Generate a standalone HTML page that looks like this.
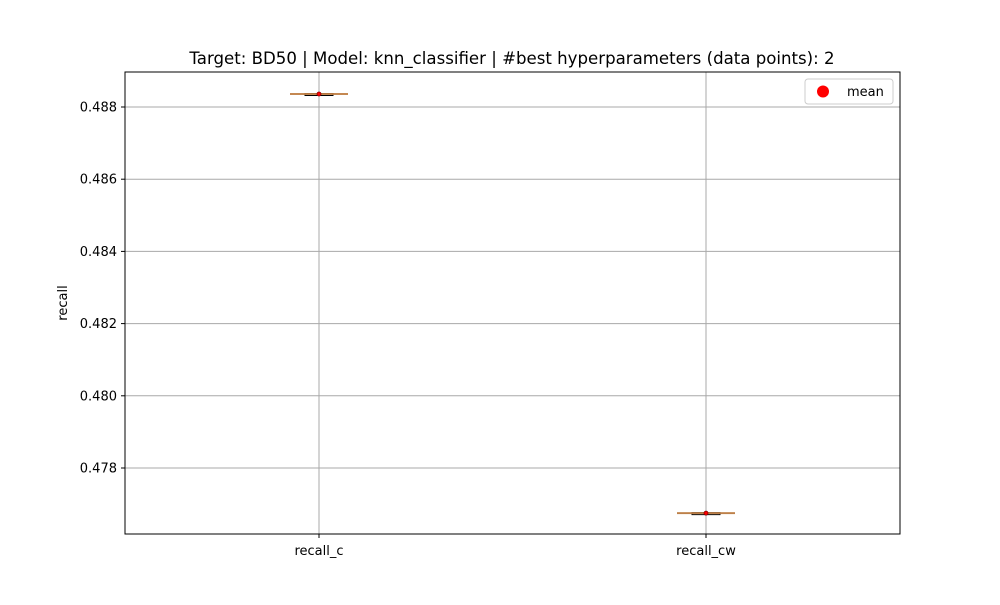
<!DOCTYPE html>
<html><head><meta charset="utf-8"><style>
body{margin:0;background:#fff;font-family:"Liberation Sans","DejaVu Sans",sans-serif}
</style></head><body>
<svg width="1000" height="600" id="svg" font-family="DejaVu Sans, Liberation Sans, sans-serif">
<text x="512" y="64" font-size="16.6" text-anchor="middle">Target: BD50 | Model: knn_classifier | #best hyperparameters (data points): 2</text>
<text transform="translate(67,303) rotate(-90)" font-size="13" text-anchor="middle">recall</text>
<g id="grid"></g><g id="marks"></g>
<rect x="125" y="72" width="775" height="462" fill="none" stroke="#000" stroke-width="1"/>
<g>
<rect x="805" y="79" width="88" height="25" rx="3" fill="#fff" stroke="#ccc"/>
<circle cx="823" cy="91.5" r="6" fill="red"/>
<text x="847" y="96" font-size="13">mean</text>
</g>
</svg>
<script>
const categories=["recall_c","recall_cw"];
const q1=[0.48836,0.47675];
const q3=[0.48836,0.47675];
const medians=[0.48836,0.47675];
const means=[0.48836,0.47675];
const whiskLo=[0.48836,0.47675];
const whiskHi=[0.48836,0.47675];
const yTicks=[0.478,0.480,0.482,0.484,0.486,0.488];
const NS="http://www.w3.org/2000/svg";
const y=v=>107+(0.488-v)/0.002*72.2;
const x=i=>319+i*387;
function mk(t,a,p){const e=document.createElementNS(NS,t);for(const k in a)e.setAttribute(k,a[k]);p.appendChild(e);return e;}
const g=document.getElementById('grid'),m=document.getElementById('marks');
yTicks.forEach(v=>{
 const l=mk('line',{x1:125,x2:900,y1:y(v),y2:y(v),stroke:'#a8a8a8','stroke-width':1},g);
 
 
 mk('line',{x1:121,x2:125,y1:y(v),y2:y(v),stroke:'#000'},g);
 const t=mk('text',{x:117,y:y(v)+4.5,'font-size':13,'text-anchor':'end'},g);t.textContent=v.toFixed(3);
 
 
});
categories.forEach((c,i)=>{
 const cx=x(i);
 const l=mk('line',{x1:cx,x2:cx,y1:72,y2:534,stroke:'#a8a8a8','stroke-width':1},g);
 
 
 mk('line',{x1:cx,x2:cx,y1:534,y2:538,stroke:'#000'},g);
 const t=mk('text',{x:cx,y:555,'font-size':13,'text-anchor':'middle'},g);t.textContent=c;
 
 
 const b=mk('g',{},m);
 
 
 mk('line',{x1:cx,x2:cx,y1:y(whiskHi[i]),y2:y(q3[i]),stroke:'#000'},b);
 mk('line',{x1:cx,x2:cx,y1:y(whiskLo[i]),y2:y(q1[i]),stroke:'#000'},b);
 mk('line',{x1:cx-29,x2:cx+29,y1:y(whiskHi[i]),y2:y(whiskHi[i]),stroke:'#000'},b);
 mk('line',{x1:cx-29,x2:cx+29,y1:y(whiskLo[i]),y2:y(whiskLo[i]),stroke:'#000'},b);
 mk('rect',{x:cx-14,y:y(q3[i])-0.5,width:28,height:Math.max(1,y(q1[i])-y(q3[i]))+1,fill:'none',stroke:'#000'},b);
 mk('line',{x1:cx-29,x2:cx+29,y1:y(medians[i]),y2:y(medians[i]),stroke:'#d08a4a','stroke-width':2,opacity:0.85},b);
 mk('circle',{cx:cx,cy:y(means[i]),r:2,fill:'red',stroke:'#800','stroke-width':0.8},b);
});
</script>
</body></html>
